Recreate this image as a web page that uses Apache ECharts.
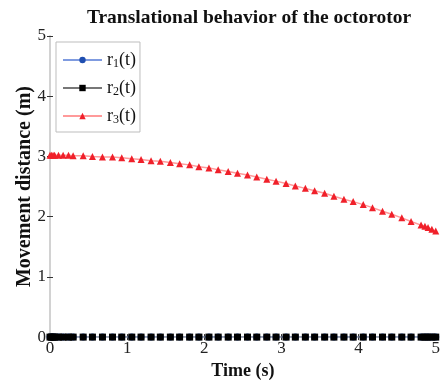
<!DOCTYPE html>
<html>
<head>
<meta charset="utf-8">
<script src="https://cdn.jsdelivr.net/npm/echarts@6/dist/echarts.min.js"></script>
<style>
  html, body { margin: 0; padding: 0; background: #fff; }
  #main { width: 443px; height: 385px; }
</style>
</head>
<body>
<div id="main"></div>
<script>
// sample times (s), variable step: dense near start and end
var times = [0, 0.02, 0.04, 0.06, 0.11, 0.17, 0.24, 0.30, 0.43, 0.55,
  0.68, 0.81, 0.93, 1.06, 1.18, 1.31, 1.43, 1.56, 1.68, 1.81,
  1.93, 2.06, 2.18, 2.31, 2.43, 2.56, 2.68, 2.81, 2.93, 3.06,
  3.18, 3.31, 3.43, 3.56, 3.68, 3.81, 3.93, 4.06, 4.18, 4.31,
  4.43, 4.56, 4.68, 4.81, 4.86, 4.90, 4.95, 5.00]
var r1 = [0, 0, 0, 0, 0, 0, 0, 0, 0, 0,
  0, 0, 0, 0, 0, 0, 0, 0, 0, 0,
  0, 0, 0, 0, 0, 0, 0, 0, 0, 0,
  0, 0, 0, 0, 0, 0, 0, 0, 0, 0,
  0, 0, 0, 0, 0, 0, 0, 0]
var r2 = [0, 0, 0, 0, 0, 0, 0, 0, 0, 0,
  0, 0, 0, 0, 0, 0, 0, 0, 0, 0,
  0, 0, 0, 0, 0, 0, 0, 0, 0, 0,
  0, 0, 0, 0, 0, 0, 0, 0, 0, 0,
  0, 0, 0, 0, 0, 0, 0, 0]
var r3 = [3.02, 3.02, 3.02, 3.02, 3.02, 3.02, 3.02, 3.01, 3.01, 3.00,
  2.99, 2.99, 2.98, 2.96, 2.95, 2.93, 2.92, 2.90, 2.88, 2.86,
  2.83, 2.81, 2.78, 2.75, 2.72, 2.69, 2.66, 2.62, 2.59, 2.55,
  2.51, 2.47, 2.43, 2.39, 2.34, 2.29, 2.25, 2.20, 2.15, 2.09,
  2.04, 1.98, 1.92, 1.86, 1.84, 1.82, 1.79, 1.76]
var xTicks = [0, 1, 2, 3, 4, 5]
var yTicks = [0, 1, 2, 3, 4, 5]

var serif = '"Liberation Serif", "Times New Roman", serif'
var frame = '#cfcfcf'

function pairs(ys) {
  return times.map(function (t, i) { return [t, ys[i]] })
}

var sideAxis = {
  min: 0, max: 5, interval: 1, type: 'value',
  axisLine: { show: true, lineStyle: { color: frame, width: 1.5 } },
  axisTick: { show: true, inside: true, length: 3, lineStyle: { color: '#333' } },
  axisLabel: { show: false },
  splitLine: { show: false }
}

var myChart = echarts.init(document.getElementById('main'))
myChart.setOption({
  animation: false,
  title: {
    text: 'Translational behavior of the octorotor',
    left: 244, top: 3, textAlign: 'center',
    textStyle: { fontFamily: serif, fontSize: 19.5, fontWeight: 'bold', color: '#111' }
  },
  grid: { left: 50, right: 2, top: 36, bottom: 46 },
  legend: {
    orient: 'vertical',
    left: 56, top: 42,
    width: 81,
    padding: [8, 4, 6, 6],
    itemGap: 8,
    itemWidth: 39,
    itemHeight: 8,
    borderColor: '#bdbdbd',
    borderWidth: 1,
    formatter: function (name) {
      return '{a|r}{s|' + name.charAt(1) + '}{a|(t)}'
    },
    textStyle: {
      rich: {
        a: { fontFamily: serif, fontSize: 18, color: '#111', lineHeight: 20 },
        s: { fontFamily: serif, fontSize: 12, color: '#111', lineHeight: 20, verticalAlign: 'bottom', padding: [8, 0, 0, 0] }
      }
    },
    data: ['r1(t)', 'r2(t)', 'r3(t)']
  },
  xAxis: [{
    type: 'value', min: 0, max: 5, interval: 1,
    name: 'Time (s)', nameLocation: 'middle', nameGap: 24,
    nameTextStyle: { fontFamily: serif, fontSize: 18, fontWeight: 'bold', color: '#111' },
    axisLine: { show: true, onZero: false, lineStyle: { color: frame, width: 1.5 } },
    axisTick: { show: true, inside: true, length: 3, lineStyle: { color: '#333' } },
    axisLabel: { fontFamily: serif, fontSize: 17, color: '#222', margin: 3,
      formatter: function (v) { return xTicks.indexOf(v) >= 0 ? String(v) : '' } },
    splitLine: { show: false }
  }, Object.assign({ position: 'top' }, sideAxis)],
  yAxis: [{
    type: 'value', min: 0, max: 5, interval: 1,
    name: 'Movement distance (m)', nameLocation: 'middle', nameGap: 15,
    nameMoveOverlap: false,
    nameTextStyle: { fontFamily: serif, fontSize: 20, fontWeight: 'bold', color: '#111' },
    axisLine: { show: true, onZero: false, lineStyle: { color: frame, width: 1.5 } },
    axisTick: { show: true, inside: true, length: 3, lineStyle: { color: '#333' } },
    axisLabel: { fontFamily: serif, fontSize: 17, color: '#222', margin: 4,
      formatter: function (v) { return yTicks.indexOf(v) >= 0 ? String(v) : '' } },
    splitLine: { show: false }
  }, Object.assign({ position: 'right' }, sideAxis)],
  series: [{
    name: 'r1(t)', type: 'line', data: pairs(r1),
    symbol: 'circle', symbolSize: 7,
    itemStyle: { color: '#1f4fb0' },
    lineStyle: { color: '#7f9be0', width: 1 }
  }, {
    name: 'r2(t)', type: 'line', data: pairs(r2),
    symbol: 'rect', symbolSize: 7,
    itemStyle: { color: '#000' },
    lineStyle: { color: '#777', width: 1 }
  }, {
    name: 'r3(t)', type: 'line', data: pairs(r3),
    symbol: 'triangle', symbolSize: 7,
    itemStyle: { color: '#f0202a' },
    lineStyle: { color: '#ff9a9a', width: 1.5 }
  }]
})
myChart.resize()
</script>
</body>
</html>
